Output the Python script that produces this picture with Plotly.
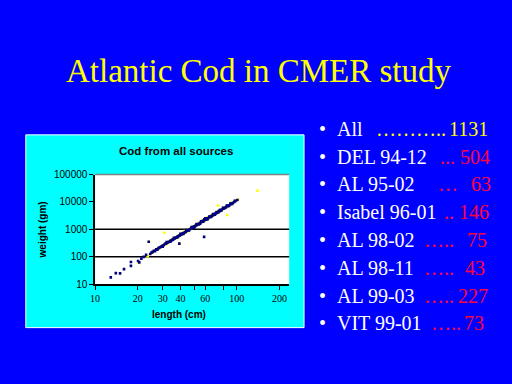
import plotly.graph_objects as go

# ---------------- data ----------------
TITLE = "Atlantic Cod in CMER study"
CHART_TITLE = "Cod from all sources"
X_TITLE = "length (cm)"
Y_TITLE = "weight (gm)"

X_TICK_VALUES = [10, 20, 30, 40, 50, 60, 80, 100, 200]
X_TICK_LABELS = ["10", "20", "30", "40", "", "60", "", "100", "200"]
Y_TICK_VALUES = [10, 100, 1000, 10000, 100000]
Y_TICK_LABELS = ["10", "100", "1000", "10000", "100000"]
GRID_WEIGHTS = [100, 1000]

# navy series (length cm, weight gm)
NAVY_LENGTH = [12.9, 14.0, 15.0, 16.0, 17.9, 17.9, 20.1, 20.5, 21.2, 22.0, 22.9, 23.9,
               24.5, 25, 25.5, 26, 26.5, 27, 27.5, 28, 28.5, 29, 29.5, 30, 30.5, 31, 31.5,
               32, 32.5, 33, 33.5, 34, 34.5, 35, 35.5, 36, 36.5, 37, 37.5, 38, 38.5, 39,
               39.5, 40, 40.5, 41, 41.5, 42, 43, 43.5, 44, 45, 45.5, 46, 47, 48, 48.5, 49,
               50, 50.5, 51, 52, 53, 54, 55, 55, 56, 57, 57.5, 58, 59, 59, 60, 60, 61, 62,
               63, 64, 65, 66, 67, 68, 69, 70, 71, 72, 73, 74, 75, 76, 77, 78, 80, 81, 82,
               84, 86, 88, 90, 92, 94, 96, 98, 101, 58.8, 39.3,
               30, 32, 34, 36, 38, 40, 42, 44, 46, 48, 50, 52, 54, 56, 58, 60, 62, 64, 66,
               68, 70, 72, 74, 76, 78, 80, 83, 85, 88, 90, 93, 97]
NAVY_WEIGHT = [17.5, 25, 24.5, 35, 64, 46, 69, 62, 85, 98, 118, 350,
               125, 140, 150, 165, 160, 185, 180, 205, 215, 225, 240, 255, 260, 290, 300,
               310, 330, 345, 350, 380, 390, 410, 420, 450, 460, 490, 510, 530, 560, 570,
               600, 620, 650, 680, 690, 730, 770, 800, 850, 900, 920, 980, 1030, 1100, 1150, 1200,
               1250, 1300, 1330, 1420, 1500, 1600, 1700, 1600, 1820, 1900, 2000, 2050, 2150, 2300, 2250, 2400, 2350, 2500,
               2600, 2750, 2900, 3000, 3150, 3300, 3500, 3700, 3800, 3950, 4200, 4400, 4600, 4700, 5000, 5200, 5600, 5800, 6100,
               6500, 7000, 7500, 8100, 8700, 9300, 10000, 10800, 11800, 527, 299,
               230, 340, 350, 490, 500, 680, 670, 930, 900, 1200, 1150, 1550, 1500, 1950, 1900, 2500, 2300, 2950, 2800,
               3600, 3400, 4300, 4100, 5100, 4900, 6100, 6000, 7300, 7100, 8800, 8500, 11000]

# yellow series (length cm, weight gm)
YELLOW_LENGTH = [20.3, 23.5, 24, 25.5, 26.5, 27.5, 28.5, 29.5, 30.5, 30.8, 31.5, 32.5, 33.5,
                 34.5, 35.5, 36.5, 37.5, 38.5, 39.3, 39.5, 40.5, 41.5, 42.5, 43.5, 44.5, 45.5,
                 46.5, 47.5, 49, 50.5, 52, 53.5, 55, 56.5, 58, 59.5, 61, 62.5, 64, 65.5, 67,
                 68.5, 70, 72, 73.8, 74, 76, 78, 85.5, 80, 83, 87, 90, 96, 100, 102, 140,
                 33, 35, 37, 39, 41, 43, 45, 47, 49, 51, 53, 55, 57, 60, 62, 64, 66, 69, 71,
                 73, 75, 79, 82, 86, 92]
YELLOW_WEIGHT = [62, 105, 350, 140, 175, 195, 200, 230, 270, 750, 280, 320, 370,
                 400, 430, 480, 500, 540, 299, 580, 660, 700, 750, 830, 870, 950,
                 1000, 1080, 1150, 1280, 1450, 1550, 1750, 1850, 2100, 2200, 2450, 2550, 2700, 2950, 3200,
                 3400, 3600, 4000, 7400, 4300, 4800, 5100, 3330, 5500, 6300, 7300, 8000, 10600, 11500, 12200, 25700,
                 330, 440, 460, 620, 640, 860, 840, 1120, 1250, 1420, 1450, 1620, 2050, 2150, 2700, 2600, 3250, 3300, 4000,
                 3950, 4900, 5300, 6400, 6600, 9200]

# bullet list
LIST_LABELS = ["All", "DEL 94-12", "AL 95-02", "Isabel 96-01", "AL 98-02", "AL 98-11", "AL 99-03", "VIT 99-01"]
LIST_DOTS = ["………..", "...", "…", "..", "…..", "…..", "…..", "….."]
LIST_COUNTS = [1131, 504, 63, 146, 75, 43, 227, 73]

# ---------------- layout / style ----------------
W, H = 512, 384
BLUE = "#0000FF"
CYAN = "#00FFFF"
RED = "#FF0040"
YELLOW = "#FFFF00"
NAVY = "#000080"
SERIF = "Liberation Serif, Times New Roman, serif"
SANS = "Liberation Sans, Arial, sans-serif"

def px_x(p):
    return p / W

def px_y(p):
    return 1 - p / H

fig = go.Figure()
fig.add_trace(go.Scatter(x=YELLOW_LENGTH, y=YELLOW_WEIGHT, mode="markers",
                         marker=dict(symbol="square", size=2.6, color=YELLOW, line=dict(width=0)),
                         hoverinfo="skip", showlegend=False))
fig.add_trace(go.Scatter(x=NAVY_LENGTH, y=NAVY_WEIGHT, mode="markers",
                         marker=dict(symbol="square", size=2.6, color=NAVY, line=dict(width=0)),
                         hoverinfo="skip", showlegend=False))

shapes = [
    dict(type="rect", xref="paper", yref="paper", x0=px_x(21), x1=px_x(302), y0=px_y(332), y1=px_y(133),
         fillcolor=CYAN, line=dict(color="white", width=1), layer="below"),
    dict(type="rect", xref="x domain", yref="y domain", x0=0, x1=1, y0=0, y1=1,
         fillcolor="white", line=dict(width=0), layer="below"),
    dict(type="line", xref="x domain", yref="y domain", x0=0, x1=1, y0=1, y1=1,
         line=dict(color="#808080", width=1.5), layer="below"),
]
for g in GRID_WEIGHTS:
    shapes.append(dict(type="line", xref="x domain", yref="y", x0=0, x1=1, y0=g, y1=g,
                       line=dict(color="black", width=1.5), layer="below"))

annotations = [
    dict(text=TITLE, x=0.5, y=px_y(67), xref="paper", yref="paper", showarrow=False,
         xanchor="center", yanchor="middle", font=dict(family=SERIF, size=33, color=YELLOW)),
    dict(text="<b>" + CHART_TITLE + "</b>", x=px_x(173), y=px_y(150), xref="paper", yref="paper",
         showarrow=False, xanchor="center", yanchor="middle", font=dict(family=SANS, size=11.5, color="black")),
    dict(text="<b>" + X_TITLE + "</b>", x=px_x(176), y=px_y(318), xref="paper", yref="paper",
         showarrow=False, xanchor="center", yanchor="middle", font=dict(family=SANS, size=10, color="black")),
    dict(text="<b>" + Y_TITLE + "</b>", x=px_x(38), y=px_y(231), xref="paper", yref="paper",
         showarrow=False, xanchor="center", yanchor="middle", textangle=-90,
         font=dict(family=SANS, size=10, color="black")),
]

LINE_Y0, LINE_STEP = 126.7, 28.7
DOT_X = [373, 437, 435, 441, 421, 421, 421, 428]
NUM_X = [446, 457, 469, 456, 465, 463, 455, 462]
for i, (lab, dots, cnt) in enumerate(zip(LIST_LABELS, LIST_DOTS, LIST_COUNTS)):
    yy = px_y(LINE_Y0 + i * LINE_STEP)
    col = YELLOW if i == 0 else RED
    annotations.append(dict(text="•", x=px_x(321), y=yy, xref="paper", yref="paper", showarrow=False,
                            xanchor="center", yanchor="middle", font=dict(family=SERIF, size=20, color="white")))
    annotations.append(dict(text=lab, x=px_x(333), y=yy, xref="paper", yref="paper", showarrow=False,
                            xanchor="left", yanchor="middle", font=dict(family=SERIF, size=20, color="white")))
    annotations.append(dict(text=dots, x=px_x(DOT_X[i]), y=yy, xref="paper", yref="paper", showarrow=False,
                            xanchor="left", yanchor="middle", font=dict(family=SERIF, size=20, color=col)))
    annotations.append(dict(text=str(cnt), x=px_x(NUM_X[i]), y=yy, xref="paper", yref="paper", showarrow=False,
                            xanchor="left", yanchor="middle", font=dict(family=SERIF, size=20, color=col)))

fig.update_layout(
    width=W, height=H, margin=dict(l=0, r=0, t=0, b=0),
    paper_bgcolor=BLUE, plot_bgcolor="rgba(0,0,0,0)",
    showlegend=False, shapes=shapes, annotations=annotations,
    xaxis=dict(type="log", range=[1, 2.37], domain=[px_x(91), px_x(287)], anchor="y",
               tickvals=X_TICK_VALUES, ticktext=X_TICK_LABELS, ticks="outside", ticklen=4,
               tickcolor="black", showline=True, linecolor="black", linewidth=1.5,
               showgrid=False, zeroline=False, tickfont=dict(family=SERIF, size=10, color="black")),
    yaxis=dict(type="log", range=[1, 5], domain=[px_y(287), px_y(174)], anchor="x",
               tickvals=Y_TICK_VALUES, ticktext=Y_TICK_LABELS, ticks="outside", ticklen=4,
               tickcolor="black", showline=True, linecolor="black", linewidth=1.5,
               showgrid=False, zeroline=False, tickfont=dict(family=SANS, size=10, color="black")),
)

fig.write_html("out.html", config={"displayModeBar": False},
               post_script="document.body.style.margin='0';document.body.style.overflow='hidden';"
                           "document.body.style.background='" + BLUE + "';")
